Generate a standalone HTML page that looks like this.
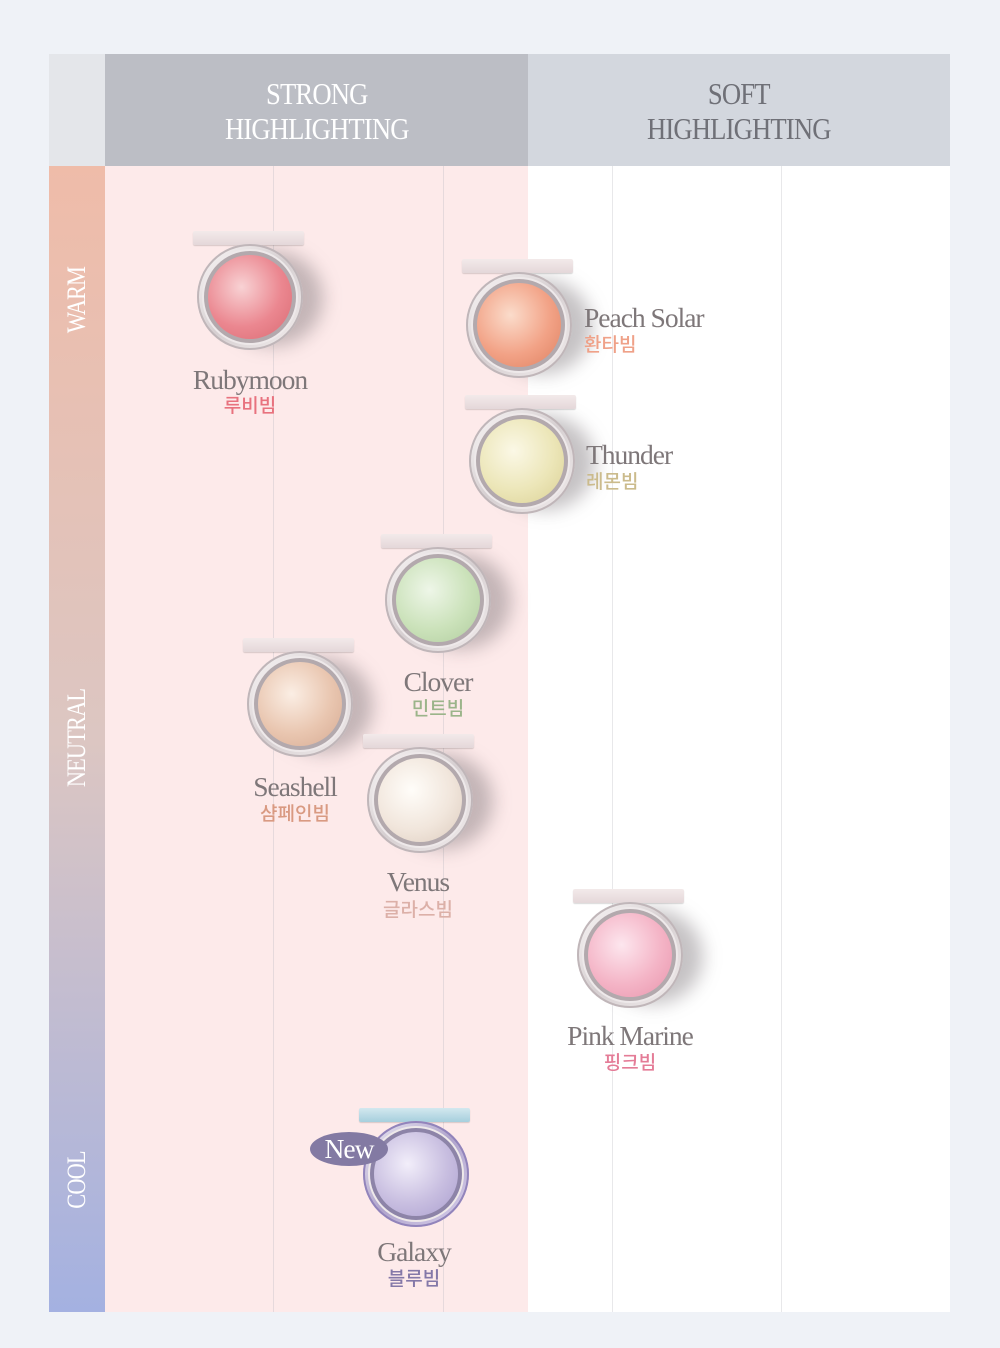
<!DOCTYPE html>
<html><head><meta charset="utf-8"><style>
*{margin:0;padding:0;box-sizing:border-box}
body{width:1000px;height:1348px;background:#eff2f7;position:relative;overflow:hidden;font-family:"Liberation Serif",serif}
.a{position:absolute}
.hd{color:#fff;font-size:31px;line-height:35px;text-align:center;letter-spacing:-1px}
.hd span{display:inline-block;transform:scaleX(.86)}
.vl{position:absolute;width:1px;background:#e6d9dc;top:166px;height:1146px}
.side{position:absolute;left:49px;width:56px;color:#fff;font-size:26px;letter-spacing:-1px}
.side span{position:absolute;left:28px;transform:translate(-50%,-50%) rotate(-90deg) scaleX(.86);white-space:nowrap}
.c{position:absolute;width:111px;height:125px}
.c .lid{position:absolute;left:0;top:0;width:111px;height:14px;background:linear-gradient(#f3eaea,#e4d7d9);border-radius:2px;box-shadow:0 1px 1px rgba(0,0,0,.15)}
.c .sh{position:absolute;left:30px;top:20px;width:100px;height:95px;border-radius:50%;background:rgba(90,80,85,.35);filter:blur(9px)}
.c .ring{position:absolute;left:4px;top:13px;width:106px;height:106px;border-radius:50%;background:linear-gradient(135deg,#fbf8f8,#d6cfd1 50%,#f3eeee);box-shadow:inset 0 0 0 2px #c0b6b9}
.c .ring2{position:absolute;left:11px;top:20px;width:92px;height:92px;border-radius:50%;background:#b3a9ad;box-shadow:0 0 0 2px #eee9ea}
.c .pan{position:absolute;left:15px;top:24px;width:84px;height:84px;border-radius:50%}
.n{position:absolute;font-size:27px;color:#7e7779;letter-spacing:-1px;white-space:nowrap;line-height:28px}
.n span{display:inline-block;transform:scaleX(1.02);transform-origin:left}
.k{position:absolute;font-family:"Liberation Sans","Noto Sans CJK KR",sans-serif;font-size:19px;font-weight:500;white-space:nowrap;line-height:20px}
.ctr{transform:translateX(-50%)}
.ctr span{transform-origin:center}
</style></head><body>
<div class="a" style="left:49px;top:54px;width:56px;height:112px;background:#e4e6ea"></div>
<div class="a" style="left:105px;top:54px;width:423px;height:112px;background:#bcbec5"></div>
<div class="a" style="left:528px;top:54px;width:422px;height:112px;background:#d3d7de"></div>
<div class="a hd" style="left:105px;top:76px;width:423px"><span>STRONG<br>HIGHLIGHTING</span></div>
<div class="a hd" style="left:528px;top:76px;width:422px;color:#6f7077"><span>SOFT<br>HIGHLIGHTING</span></div>
<div class="a" style="left:49px;top:166px;width:56px;height:1146px;background:linear-gradient(#efbca9,#dcc6c2 50%,#a4b1e1)"></div>
<div class="a" style="left:105px;top:166px;width:423px;height:1146px;background:#fdeaea"></div>
<div class="a" style="left:528px;top:166px;width:422px;height:1146px;background:#fff"></div>
<div class="vl" style="left:273px"></div><div class="vl" style="left:443px"></div>
<div class="vl" style="left:612px;background:#e8e8ea"></div><div class="vl" style="left:781px;background:#e8e8ea"></div>
<div class="side" style="top:300px"><span>WARM</span></div>
<div class="side" style="top:738px"><span>NEUTRAL</span></div>
<div class="side" style="top:1180px"><span>COOL</span></div>

<div class="c" style="left:193px;top:231px"><div class="sh"></div><div class="lid"></div><div class="ring"></div><div class="ring2"></div><div class="pan" style="background:radial-gradient(circle at 40% 38%,#f8d2d4,#eb8790 55%,#d96a72)"></div></div>
<div class="n ctr" style="left:250px;top:366px"><span>Rubymoon</span></div>
<div class="k ctr" style="left:250px;top:397px;color:#e8727e">루비빔</div>

<div class="c" style="left:462px;top:259px"><div class="sh"></div><div class="lid"></div><div class="ring"></div><div class="ring2"></div><div class="pan" style="background:radial-gradient(circle at 40% 38%,#fbdccb,#f2a286 55%,#de8060)"></div></div>
<div class="n" style="left:584px;top:304px"><span>Peach Solar</span></div>
<div class="k" style="left:584px;top:336px;color:#efa188">환타빔</div>

<div class="c" style="left:465px;top:395px"><div class="sh"></div><div class="lid"></div><div class="ring"></div><div class="ring2"></div><div class="pan" style="background:radial-gradient(circle at 40% 38%,#fbf8e6,#ece6b8 55%,#dad094)"></div></div>
<div class="n" style="left:586px;top:441px"><span>Thunder</span></div>
<div class="k" style="left:586px;top:473px;color:#cbbb8c">레몬빔</div>

<div class="c" style="left:381px;top:534px"><div class="sh"></div><div class="lid"></div><div class="ring"></div><div class="ring2"></div><div class="pan" style="background:radial-gradient(circle at 40% 38%,#eef6e8,#cbe2ba 55%,#b0cc9e)"></div></div>
<div class="n ctr" style="left:438px;top:668px"><span>Clover</span></div>
<div class="k ctr" style="left:438px;top:700px;color:#9bb48a">민트빔</div>

<div class="c" style="left:243px;top:638px"><div class="sh"></div><div class="lid"></div><div class="ring"></div><div class="ring2"></div><div class="pan" style="background:radial-gradient(circle at 40% 38%,#fbeee4,#e9c6b0 55%,#d6aa92)"></div></div>
<div class="n ctr" style="left:295px;top:773px"><span>Seashell</span></div>
<div class="k ctr" style="left:295px;top:805px;color:#d99a82">샴페인빔</div>

<div class="c" style="left:363px;top:734px"><div class="sh"></div><div class="lid"></div><div class="ring"></div><div class="ring2"></div><div class="pan" style="background:radial-gradient(circle at 40% 38%,#fffdf9,#f1e6dc 55%,#dccbbd)"></div></div>
<div class="n ctr" style="left:418px;top:868px"><span>Venus</span></div>
<div class="k ctr" style="left:418px;top:901px;color:#dcb0a8">글라스빔</div>

<div class="c" style="left:573px;top:889px"><div class="sh"></div><div class="lid"></div><div class="ring"></div><div class="ring2"></div><div class="pan" style="background:radial-gradient(circle at 40% 38%,#fde6ee,#f4b4c6 55%,#e894ac)"></div></div>
<div class="n ctr" style="left:630px;top:1022px"><span>Pink Marine</span></div>
<div class="k ctr" style="left:630px;top:1054px;color:#e47c97">핑크빔</div>

<div class="c" style="left:359px;top:1108px"><div class="lid" style="background:linear-gradient(#d3e8ef,#a6cfdd);"></div><div class="ring" style="background:linear-gradient(135deg,#eeecf5,#b0a4cc 50%,#d8d0ec);box-shadow:inset 0 0 0 2px #9284bb"></div><div class="ring2" style="background:#8d84a8"></div><div class="pan" style="background:radial-gradient(circle at 40% 38%,#f2eefa,#c8bee0 55%,#aa9ecf)"></div></div>
<div class="a" style="left:310px;top:1132px;width:78px;height:34px;border-radius:50%;background:#837aa3"></div>
<div class="n ctr" style="left:349px;top:1135px;color:#fff"><span>New</span></div>
<div class="n ctr" style="left:414px;top:1238px"><span>Galaxy</span></div>
<div class="k ctr" style="left:414px;top:1270px;color:#8478a8">블루빔</div>
</body></html>
